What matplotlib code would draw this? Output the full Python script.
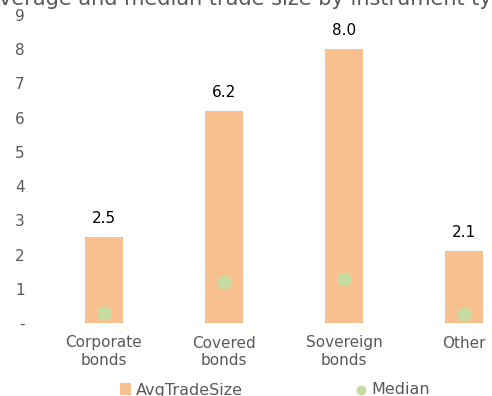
import numpy as np
import matplotlib.pyplot as plt

plt.rcParams['font.family'] = ['DejaVu Sans']

# -----------------------
# Data
# -----------------------
categories = ["Corporate\nbonds", "Covered\nbonds", "Sovereign\nbonds", "Other"]
avg_trade_size = [2.5, 6.2, 8.0, 2.1]
median_trade_size = [0.3, 1.2, 1.3, 0.25]
y_ticks = [0, 1, 2, 3, 4, 5, 6, 7, 8, 9]
y_tick_labels = ["-", "1", "2", "3", "4", "5", "6", "7", "8", "9"]
title = "Average and median trade size by instrument type"

bar_color = "#F9C08F"
median_color = "#C5DCA0"
text_gray = "#595959"

# -----------------------
# Figure
# -----------------------
fig = plt.figure(figsize=(4.92, 3.96), dpi=100)
ax = fig.add_axes([44 / 492, 73 / 396, 480 / 492, 308 / 396])

x = np.arange(len(categories))
bars = ax.bar(x, avg_trade_size, width=0.32, color=bar_color, label="AvgTradeSize", zorder=2)
pts = ax.scatter(x, median_trade_size, s=85, color=median_color, label="Median", zorder=3)

for xi, v in zip(x, avg_trade_size):
    ax.text(xi, v + 0.32, f"{v:.1f}", ha="center", va="bottom", fontsize=11, color="black")

ax.set_xlim(-0.5, 3.5)
ax.set_ylim(0, 9)
ax.set_xticks(x)
ax.set_xticklabels(categories, fontsize=11, color=text_gray)
ax.set_yticks(y_ticks)
ax.set_yticklabels(y_tick_labels, fontsize=11, color=text_gray)
ax.tick_params(axis="both", length=0)
ax.tick_params(axis="y", pad=14)
ax.tick_params(axis="x", pad=9)
for s in ax.spines.values():
    s.set_visible(False)

fig.text(0.512, 1 - 5 / 396, title, ha="center", va="baseline", fontsize=15, color=text_gray)

fig.legend(handles=[bars, pts], labels=["AvgTradeSize", "Median"],
           loc="center", bbox_to_anchor=(275 / 492, 1 - 390 / 396), ncol=2, frameon=False,
           fontsize=11.5, labelcolor=text_gray, handlelength=0.7, handleheight=0.7,
           handletextpad=0.3, columnspacing=7.0, markerscale=0.65)

fig.savefig("out.png", dpi=100)
